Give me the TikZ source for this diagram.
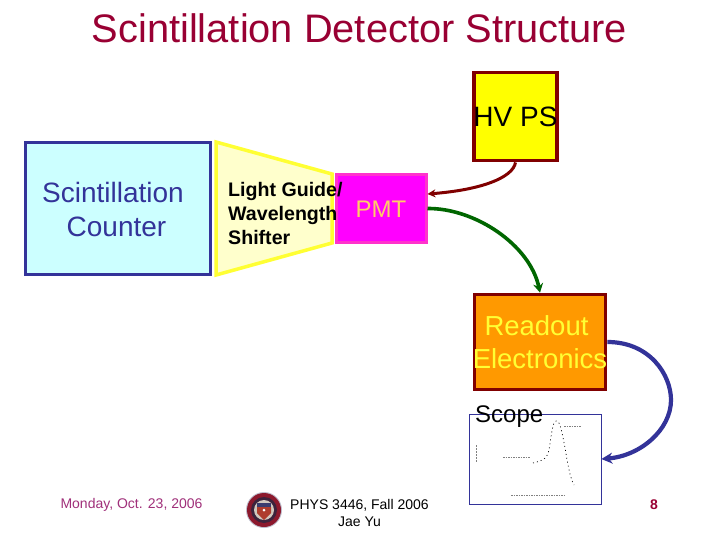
\documentclass[tikz,border=0pt]{standalone}
\usepackage{fontspec}
\setmainfont{Liberation Sans}
\usetikzlibrary{arrows.meta}
\definecolor{dkred}{HTML}{990033}
\definecolor{maroonb}{HTML}{800000}
\definecolor{bluedk}{HTML}{333399}
\definecolor{greendk}{HTML}{006600}
\definecolor{purp}{HTML}{A0307A}
\definecolor{pmttext}{HTML}{FFCC66}
\definecolor{orangeb}{HTML}{FF9900}
\definecolor{purecyan}{HTML}{CCFFFF}
\definecolor{paleyellow}{HTML}{FFFFCC}
\definecolor{pureyellow}{HTML}{FFFF00}
\definecolor{brightyellow}{HTML}{FFFF33}
\definecolor{puremagenta}{HTML}{FF00FF}
\definecolor{pinkedge}{HTML}{FF33CC}
\definecolor{sealred}{RGB}{140,25,45}
\definecolor{sealdark}{RGB}{60,35,60}
\definecolor{sealpale}{RGB}{210,200,190}
\definecolor{sealshield}{RGB}{175,60,45}
\definecolor{sealblue}{RGB}{60,60,110}
\definecolor{sealrim}{RGB}{190,190,205}
\newcommand{\fs}[2]{\fontsize{#1}{#2}\selectfont}
\tikzset{
  x=1pt,y=-1pt,
  box/.style={rectangle,minimum width=#1,inner sep=0pt,anchor=center},
  label/.style={inner sep=0pt,align=center,anchor=center},
  conn/.style={line width=3.6pt},
}
\begin{document}
\begin{tikzpicture}
\useasboundingbox (0,0) rectangle (720,540);
\fill[white] (0,0) rectangle (720,540);
% title
\node[label,text=dkred,font=\fs{39.8}{46}] (title) at (359.5,28) {Scintillation Detector Structure};
% scintillation counter
\node[box=185pt,minimum height=132pt,draw=bluedk,fill=purecyan,line width=3pt] (sc) at (118,208.5) {};
\node[label,text=bluedk,font=\fs{28}{34}] (sct) at (113,209) {Scintillation\\\hspace*{7pt}Counter};
% light guide, PMT
\draw[line width=3.5pt,draw=brightyellow,fill=paleyellow,line join=miter] (216,142) -- (332,174) -- (332,243) -- (216,275) -- cycle;
\node[box=90pt,minimum height=67pt,draw=pinkedge,fill=puremagenta,line width=3pt] (pmt) at (381,208.5) {};
\node[label,text=pmttext,font=\fs{24}{28}] (pmtt) at (381,209) {PMT};
\node[label,align=left,anchor=west,font=\bfseries\fs{19.6}{24}] (lg) at (228,213) {Light Guide/\\Wavelength\\Shifter};
% HV PS
\node[box=83pt,minimum height=88pt,draw=maroonb,fill=pureyellow,line width=3.8pt] (hv) at (515.5,116.5) {};
\node[label,font=\fs{28}{32}] (hvt) at (515.5,117) {HV PS};
% Readout
\node[box=131pt,minimum height=95pt,draw=maroonb,fill=orangeb,line width=3.8pt] (ro) at (540,342) {};
\node[label,text=brightyellow,font=\fs{27.5}{33}] (rot) at (540,342.5) {\hspace*{-7pt}Readout\\Electronics};
% Scope frame
\node[box=132pt,minimum height=90pt,draw=bluedk,fill=white,line width=0.8pt] (sp) at (535,459) {};
\node[label,anchor=west,font=\fs{24}{28}] (spt) at (475,417) {Scope};
% scope plot
\draw[line width=0.7pt,dash pattern=on 1pt off 3pt] (533,463) .. controls (545,460) and (547,458) .. (549,450) .. controls (552,430) and (553,422) .. (556,421) .. controls (560,420) and (562,432) .. (565,448) .. controls (568,465) and (570,478) .. (574,485);
\draw[line width=1pt,gray,dash pattern=on 1.5pt off 1pt] (503,457) -- (530,457);
\draw[line width=1pt,gray,dash pattern=on 1.5pt off 1pt] (564,426) -- (581,426);
\draw[line width=1pt,gray,dash pattern=on 1.5pt off 1pt] (511,495) -- (566,495);
\draw[line width=1pt,gray,dash pattern=on 1.5pt off 1.5pt] (476,445) -- (476,462);
% connectors
\draw[conn,draw=maroonb,line width=3pt,-{Stealth[length=8pt,width=8pt]}] (hv.south) .. controls (513,178) and (480,190) .. ([yshift=14.5pt]pmt.east);
\draw[conn,draw=greendk,-{Stealth[length=9pt,width=10pt]}] (pmt.east) .. controls (475,208) and (530,245) .. (ro.north);
\draw[conn,draw=bluedk,line width=4.2pt,-{Stealth[length=11pt,width=11pt]}] (ro.east) .. controls (650,342) and (671,375) .. (671,400) .. controls (671,430) and (640,456) .. (sp.east);
% footer
\node[label,text=purp,font=\fs{14}{17}] (ft1) at (131.5,505) {Monday, Oct. 23, 2006};
\node[label,font=\fs{14}{17}] (ft2) at (359.5,513) {PHYS 3446, Fall 2006\\Jae Yu};
\node[label,text=dkred,font=\bfseries\fs{14}{17}] (ft3) at (654,505) {8};
% seal
\fill[sealrim] (264,510) circle (18);
\fill[sealred] (264,510) circle (17);
\fill[sealdark] (264,510) circle (13);
\fill[sealpale] (264,510) circle (10);
\fill[sealshield] (257,507) -- (271,507) -- (271,513) -- (264,520) -- (257,513) -- cycle;
\fill[sealblue] (257,503) rectangle (271,507);
\fill[white] (264,510) circle (1.5);
\end{tikzpicture}
\end{document}
